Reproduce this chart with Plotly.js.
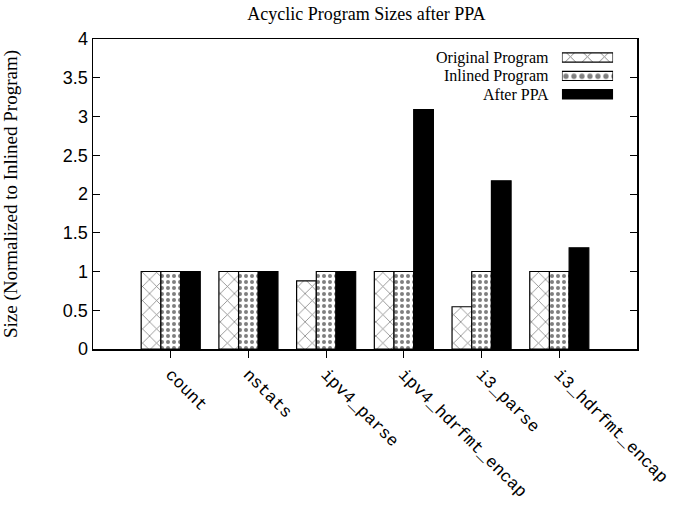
<!DOCTYPE html>
<html>
<head>
<meta charset="utf-8">
<script src="https://cdn.plot.ly/plotly-3.0.1.min.js"></script>
<style>html,body{margin:0;padding:0;background:#fff;}#chart{width:676px;height:509px;}</style>
</head>
<body>
<div id="chart"></div>
<script>
const categories = ["count", "nstats", "ipv4_parse", "ipv4_hdrfmt_encap", "i3_parse", "i3_hdrfmt_encap"];
const seriesNames = ["Original Program", "Inlined Program", "After PPA"];
const originalProgram = [1.0, 1.0, 0.88, 1.0, 0.545, 1.0];
const inlinedProgram = [1.0, 1.0, 1.0, 1.0, 1.0, 1.0];
const afterPPA = [1.0, 1.0, 1.0, 3.09, 2.17, 1.305];
const yTicks = [0, 0.5, 1, 1.5, 2, 2.5, 3, 3.5, 4];

const serif = "Liberation Serif, Times New Roman, serif";
const patterns = [
  {shape: "x", fgcolor: "#000", bgcolor: "#fff", size: 10, solidity: 0.15, fillmode: "overlay"},
  {shape: ".", fgcolor: "#000", bgcolor: "#fff", size: 6, solidity: 0.35, fillmode: "overlay"},
  null
];
const seriesValues = [originalProgram, inlinedProgram, afterPPA];

const traces = seriesValues.map((vals, i) => {
  const m = {color: i === 2 ? "#000" : "#fff", line: {color: "#000", width: 1.2}};
  if (patterns[i]) m.pattern = patterns[i];
  return {type: "bar", x: categories, y: vals, name: seriesNames[i], marker: m, showlegend: false, hoverinfo: "skip"};
});

// legend samples on an overlay axis (swatch to the right of right-aligned text, as in the reference)
seriesNames.forEach((nm, i) => {
  const m = {color: i === 2 ? "#000" : "#fff", line: {color: "#000", width: 1.2}};
  if (patterns[i]) m.pattern = Object.assign({}, patterns[i], {size: i === 0 ? 12 : 8});
  traces.push({type: "bar", orientation: "h", x: [1], y: [i], width: 0.5, xaxis: "x2", yaxis: "y2", marker: m, showlegend: false, hoverinfo: "skip"});
});

const annotations = seriesNames.map((nm, i) => ({
  xref: "x2", yref: "y2", x: 0, y: i, text: nm, showarrow: false, xanchor: "right", yanchor: "middle", xshift: -12,
  font: {family: serif, size: 16, color: "#000"}, borderpad: 0
}));

const layout = {
  width: 676, height: 509,
  margin: {l: 93, r: 39, t: 39, b: 160},
  paper_bgcolor: "#fff", plot_bgcolor: "#fff",
  title: {text: "Acyclic Program Sizes after PPA", x: 0.542, xanchor: "center", y: 0.9725, yanchor: "middle",
          font: {family: serif, size: 18, color: "#000"}},
  barmode: "group", bargap: 0.24, bargroupgap: 0,
  xaxis: {type: "category", range: [-1, 6], showline: true, linecolor: "#000", linewidth: 1.5, mirror: true,
          ticks: "outside", ticklen: 7, tickcolor: "#000", tickwidth: 1, tickangle: 45, showgrid: false, zeroline: false,
          tickfont: {family: "Liberation Mono, Courier New, monospace", size: 17, color: "#000"}},
  yaxis: {range: [0, 4], tickvals: yTicks, ticktext: yTicks.map(String), showline: true, linecolor: "#000", linewidth: 1.5, mirror: "ticks",
          ticks: "inside", ticklen: 7, tickcolor: "#000", tickwidth: 1, showgrid: false, zeroline: false,
          tickfont: {family: "Liberation Sans, Arial, sans-serif", size: 18, color: "#000"},
          title: {text: "Size (Normalized to Inlined Program)", standoff: 40, font: {family: serif, size: 19, color: "#000"}}},
  xaxis2: {domain: [0.862, 0.956], range: [0, 1], visible: false, fixedrange: true, anchor: "y2"},
  yaxis2: {domain: [0.792, 0.97], range: [2.5, -0.5], visible: false, fixedrange: true, anchor: "x2"},
  annotations: annotations
};

Plotly.newPlot("chart", traces, layout, {displayModeBar: false, staticPlot: true});
</script>
</body>
</html>
